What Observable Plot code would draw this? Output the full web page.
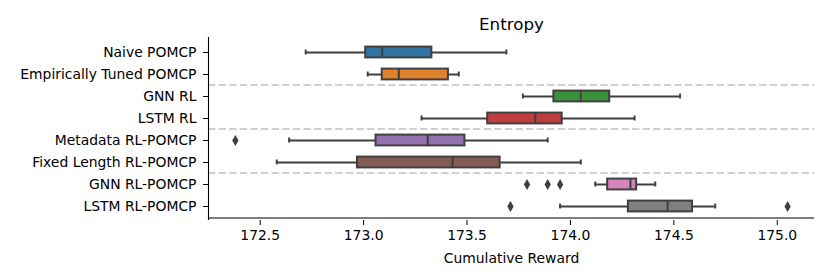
<!DOCTYPE html>
<html>
<head>
<meta charset="utf-8">
<script src="https://cdn.jsdelivr.net/npm/d3@7"></script>
<script src="https://cdn.jsdelivr.net/npm/@observablehq/plot@0.6"></script>
<style>
  html, body { margin: 0; padding: 0; background: #fff; }
</style>
</head>
<body>
<div id="chart"></div>
<script>
const categories = ["Naive POMCP", "Empirically Tuned POMCP", "GNN RL", "LSTM RL",
  "Metadata RL-POMCP", "Fixed Length RL-POMCP", "GNN RL-POMCP", "LSTM RL-POMCP"];
const whiskerLo = [172.72, 173.02, 173.77, 173.28, 172.64, 172.58, 174.12, 173.95];
const q1        = [173.01, 173.09, 173.92, 173.60, 173.06, 172.97, 174.18, 174.28];
const median    = [173.09, 173.17, 174.05, 173.83, 173.31, 173.43, 174.29, 174.47];
const q3        = [173.33, 173.41, 174.19, 173.96, 173.49, 173.66, 174.32, 174.59];
const whiskerHi = [173.69, 173.46, 174.53, 174.31, 173.89, 174.05, 174.41, 174.70];
const outliers  = [[], [], [], [], [172.38], [], [173.79, 173.89, 173.95], [173.71, 175.05]];
const colors = ["#3274a1", "#e1812c", "#3a923a", "#c03d3e", "#9372b2", "#845b53", "#d684bd", "#7f7f7f"];
const separators = ["GNN RL", "Metadata RL-POMCP", "GNN RL-POMCP"];
const xTicks = [172.5, 173.0, 173.5, 174.0, 174.5, 175.0];
const xDomain = [172.25, 175.18];

const rows = categories.map((c, i) => ({
  cat: c, lo: whiskerLo[i], q1: q1[i], med: median[i], q3: q3[i], hi: whiskerHi[i]
}));
const outRows = outliers.flatMap((arr, i) => arr.map(v => ({cat: categories[i], v})));

const W = 830, H = 280, mt = 37, mb = 60, ml = 208, mr = 16;
const step = (H - mt - mb) / categories.length;
const boxInset = (step - 11.7) / 2;
const capInset = (step - 5.8) / 2;
const edge = "#3f3f3f";

const chart = Plot.plot({
  width: W, height: H,
  marginTop: mt, marginBottom: mb, marginLeft: ml, marginRight: mr,
  style: {fontFamily: "DejaVu Sans", fontSize: "13.9px", color: "#000", background: "#fff"},
  x: {domain: xDomain},
  y: {domain: categories, padding: 0},
  color: {domain: categories, range: colors},
  marks: [
    Plot.ruleY(separators, {y: d => d, dy: -step / 2, stroke: "#d0d0d0", strokeWidth: 2, strokeDasharray: "7.4,3.2"}),
    Plot.ruleY(rows, {y: "cat", x1: "lo", x2: "q1", stroke: edge, strokeWidth: 2}),
    Plot.ruleY(rows, {y: "cat", x1: "q3", x2: "hi", stroke: edge, strokeWidth: 2}),
    Plot.tickX(rows, {x: "lo", y: "cat", insetTop: capInset, insetBottom: capInset, stroke: edge, strokeWidth: 2}),
    Plot.tickX(rows, {x: "hi", y: "cat", insetTop: capInset, insetBottom: capInset, stroke: edge, strokeWidth: 2}),
    Plot.barX(rows, {y: "cat", x1: "q1", x2: "q3", fill: "cat", stroke: edge, strokeWidth: 2, insetTop: boxInset, insetBottom: boxInset}),
    Plot.tickX(rows, {x: "med", y: "cat", insetTop: boxInset, insetBottom: boxInset, stroke: edge, strokeWidth: 2}),
    Plot.dot(outRows, {x: "v", y: "cat", symbol: "diamond", r: 3.3, fill: edge, stroke: "none"}),
    Plot.ruleX([xDomain[0]], {stroke: "#000", strokeWidth: 1.1}),
    Plot.ruleY([categories[categories.length - 1]], {dy: step / 2, stroke: "#000", strokeWidth: 1.1}),
    Plot.axisY({tickSize: 5, tickPadding: 7, label: null, fontSize: 13.9}),
    Plot.axisX({ticks: xTicks, tickFormat: d3.format(".1f"), tickSize: 5, tickPadding: 5, label: null, fontSize: 13.9}),
    Plot.text(["Entropy"], {frameAnchor: "top", lineAnchor: "bottom", dy: -8, fontSize: 16.7, fill: "#000"}),
    Plot.text(["Cumulative Reward"], {frameAnchor: "bottom", lineAnchor: "bottom", dy: 42, fontSize: 13.9, fill: "#000"})
  ]
});
document.getElementById("chart").appendChild(chart);
</script>
</body>
</html>
